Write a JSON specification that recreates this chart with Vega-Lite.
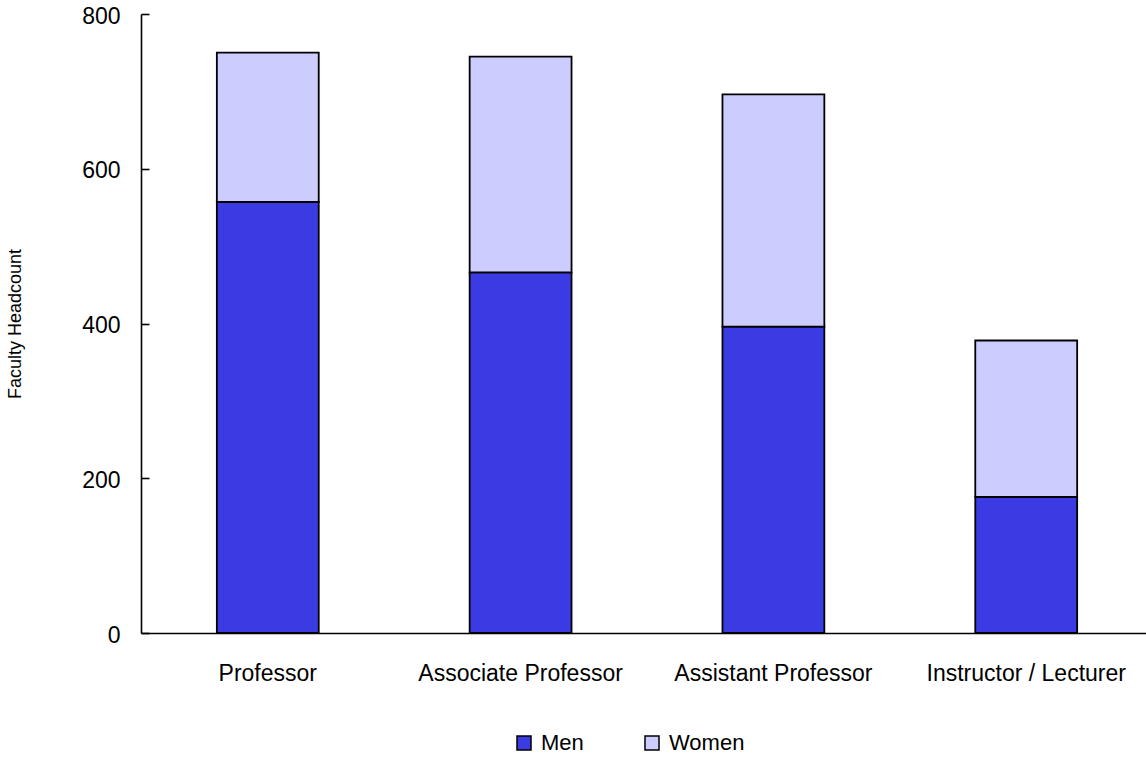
{
  "$schema": "https://vega.github.io/schema/vega-lite/v6.json",
  "autosize": "none",
  "padding": {"left": 141, "top": 14, "right": 0, "bottom": 129},
  "width": 1005,
  "height": 619,
  "background": "white",
  "config": {
    "view": {"stroke": null},
    "font": "Liberation Sans"
  },
  "data": {
    "values": [
      {"rank": "Professor", "gender": "Men", "count": 557},
      {"rank": "Professor", "gender": "Women", "count": 193},
      {"rank": "Associate Professor", "gender": "Men", "count": 466},
      {"rank": "Associate Professor", "gender": "Women", "count": 279},
      {"rank": "Assistant Professor", "gender": "Men", "count": 396},
      {"rank": "Assistant Professor", "gender": "Women", "count": 300},
      {"rank": "Instructor / Lecturer", "gender": "Men", "count": 176},
      {"rank": "Instructor / Lecturer", "gender": "Women", "count": 202}
    ]
  },
  "mark": {"type": "bar", "stroke": "black", "strokeWidth": 1.8},
  "encoding": {
    "x": {
      "field": "rank",
      "type": "nominal",
      "sort": ["Professor", "Associate Professor", "Assistant Professor", "Instructor / Lecturer"],
      "scale": {"paddingInner": 0.597, "paddingOuter": 0.3, "range": [0, 1012]},
      "axis": {
        "title": null,
        "labelAngle": 0,
        "labelFontSize": 23,
        "labelColor": "black",
        "labelPadding": 29,
        "labelLimit": 400,
        "ticks": false,
        "domainColor": "black",
        "domainWidth": 1.6,
        "labelFont": "Liberation Sans"
      }
    },
    "y": {
      "field": "count",
      "type": "quantitative",
      "stack": "zero",
      "scale": {"domain": [0, 800], "nice": false},
      "axis": {
        "title": "Faculty Headcount",
        "titleFontSize": 18,
        "titleFontWeight": "normal",
        "titleColor": "black",
        "titlePadding": 57,
        "values": [0, 200, 400, 600, 800],
        "grid": false,
        "labelFontSize": 23,
        "labelColor": "black",
        "labelPadding": 29,
        "labelOffset": 2,
        "tickSize": -8,
        "tickColor": "black",
        "tickWidth": 1.6,
        "domainColor": "black",
        "domainWidth": 1.6
      }
    },
    "color": {
      "field": "gender",
      "type": "nominal",
      "scale": {"domain": ["Men", "Women"], "range": ["#3B3BE3", "#CCCCFF"]},
      "legend": {
        "title": null,
        "orient": "none",
        "direction": "horizontal",
        "legendX": 372,
        "legendY": 718,
        "symbolType": "square",
        "symbolSize": 196,
        "symbolStrokeColor": "black",
        "symbolStrokeWidth": 1.5,
        "labelFontSize": 22,
        "labelColor": "black",
        "labelOffset": 6,
        "columnPadding": 57
      }
    },
    "order": {"field": "gender", "sort": "ascending"}
  }
}
